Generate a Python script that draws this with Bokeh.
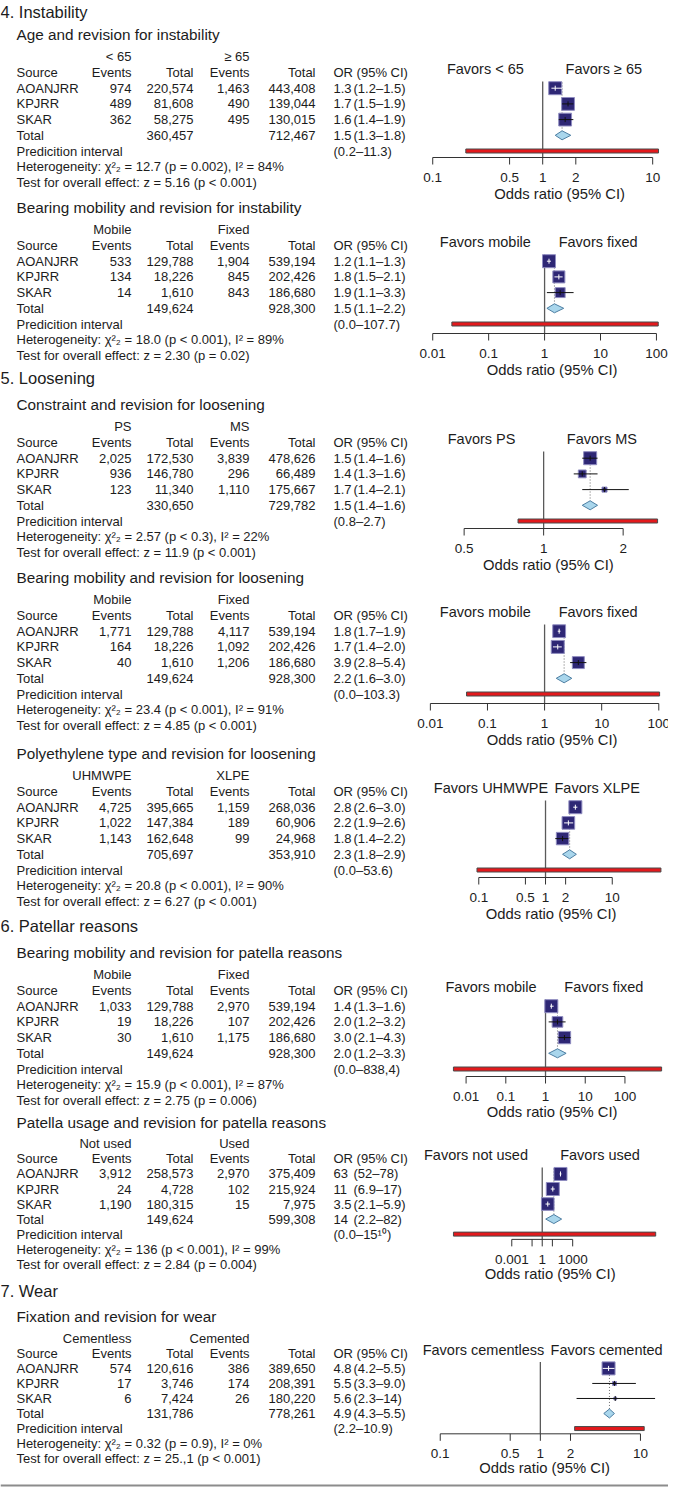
import math
from bokeh.plotting import figure
from bokeh.models import Range1d, LogScale, ColumnDataSource
from bokeh.embed import file_html
from bokeh.resources import INLINE
from bokeh.core.properties import value

# ---------------- data ----------------
STUDIES = ["AOANJRR", "KPJRR", "SKAR"]
SECTIONS = ["4. Instability", "5. Loosening", "6. Patellar reasons", "7. Wear"]
TITLES = [
    "Age and revision for instability",
    "Bearing mobility  and revision for instability",
    "Constraint and revision for loosening",
    "Bearing mobility  and revision for loosening",
    "Polyethylene type and revision for loosening",
    "Bearing mobility  and revision for patella reasons",
    "Patella usage and revision for patella reasons",
    "Fixation and revision for wear",
]
GROUP_A = ["< 65", "Mobile", "PS", "Mobile", "UHMWPE", "Mobile", "Not used", "Cementless"]
GROUP_B = ["≥ 65", "Fixed", "MS", "Fixed", "XLPE", "Fixed", "Used", "Cemented"]
FAVORS_A = ["Favors < 65", "Favors mobile", "Favors PS", "Favors mobile", "Favors UHMWPE",
            "Favors mobile", "Favors not used", "Favors cementless"]
FAVORS_B = ["Favors ≥ 65", "Favors fixed", "Favors MS", "Favors fixed", "Favors XLPE",
            "Favors fixed", "Favors used", "Favors cemented"]

EVENTS_A = [[974, 489, 362], [533, 134, 14], [2025, 936, 123], [1771, 164, 40],
            [4725, 1022, 1143], [1033, 19, 30], [3912, 24, 1190], [574, 17, 6]]
TOTAL_A = [[220574, 81608, 58275], [129788, 18226, 1610], [172530, 146780, 11340],
           [129788, 18226, 1610], [395665, 147384, 162648], [129788, 18226, 1610],
           [258573, 4728, 180315], [120616, 3746, 7424]]
EVENTS_B = [[1463, 490, 495], [1904, 845, 843], [3839, 296, 1110], [4117, 1092, 1206],
            [1159, 189, 99], [2970, 107, 1175], [2970, 102, 15], [386, 174, 26]]
TOTAL_B = [[443408, 139044, 130015], [539194, 202426, 186680], [478626, 66489, 175667],
           [539194, 202426, 186680], [268036, 60906, 24968], [539194, 202426, 186680],
           [375409, 215924, 7975], [389650, 208391, 180220]]
SUM_TOTAL_A = [360457, 149624, 330650, 149624, 705697, 149624, 149624, 131786]
SUM_TOTAL_B = [712467, 928300, 729782, 928300, 353910, 928300, 599308, 778261]

OR_EST = [[1.3, 1.7, 1.6], [1.2, 1.8, 1.9], [1.5, 1.4, 1.7], [1.8, 1.7, 3.9],
          [2.8, 2.2, 1.8], [1.4, 2.0, 3.0], [63, 11, 3.5], [4.8, 5.5, 5.6]]
OR_LO = [[1.2, 1.5, 1.4], [1.1, 1.5, 1.1], [1.4, 1.3, 1.4], [1.7, 1.4, 2.8],
         [2.6, 1.9, 1.4], [1.3, 1.2, 2.1], [52, 6.9, 2.1], [4.2, 3.3, 2.3]]
OR_HI = [[1.5, 1.9, 1.9], [1.3, 2.1, 3.3], [1.6, 1.6, 2.1], [1.9, 2.0, 5.4],
         [3.0, 2.6, 2.2], [1.6, 3.2, 4.3], [78, 17, 5.9], [5.5, 9.0, 14]]
WEIGHTS = [[34, 33, 33], [41, 35, 24], [66, 24, 10], [34.5, 35.5, 30],
           [35, 33, 32], [39, 26, 35], [34, 34, 32], [88, 8, 4]]

POOLED = [1.5, 1.5, 1.5, 2.2, 2.3, 2.0, 14, 4.9]
POOLED_LO = [1.3, 1.1, 1.4, 1.6, 1.8, 1.2, 2.2, 4.3]
POOLED_HI = [1.8, 2.2, 1.6, 3.0, 2.9, 3.3, 82, 5.5]
PRED_LO = [0.2, 0.022, 0.8, 0.043, 0.094, 0.0048, 1.8e-9, 2.2]
PRED_HI = [11.3, 107.7, 2.7, 103.3, 53.6, 838.4, 1.5e11, 10.9]
PRED_TEXT = ["(0.2–11.3)", "(0.0–107.7)", "(0.8–2.7)", "(0.0–103.3)", "(0.0–53.6)",
             "(0.0–838,4)", "(0.0–15¹⁰)", "(2.2–10.9)"]
HET_CHI2 = ["12.7", "18.0", "2.57", "23.4", "20.8", "15.9", "136", "0.32"]
HET_P = ["p = 0.002", "p < 0.001", "p < 0.3", "p < 0.001", "p < 0.001", "p < 0.001",
         "p < 0.001", "p = 0.9"]
I2 = [84, 89, 22, 91, 90, 87, 99, 0]
Z = ["5.16", "2.30", "11.9", "4.85", "6.27", "2.75", "2.84", "25.,1"]
Z_P = ["p < 0.001", "p = 0.02", "p < 0.001", "p < 0.001", "p < 0.001", "p = 0.006",
       "p = 0.004", "p < 0.001"]

TICKS = [[0.1, 0.5, 1, 2, 10], [0.01, 0.1, 1, 10, 100], [0.5, 1, 2],
         [0.01, 0.1, 1, 10, 100], [0.1, 0.5, 1, 2, 10], [0.01, 0.1, 1, 10, 100],
         [0.001, 0.1, 1, 10, 1000], [0.1, 0.5, 1, 2, 10]]
TICK_LABELS = [["0.1", "0.5", "1", "2", "10"], ["0.01", "0.1", "1", "10", "100"],
               ["0.5", "1", "2"], ["0.01", "0.1", "1", "10", "100"],
               ["0.1", "0.5", "1", "2", "10"], ["0.01", "0.1", "1", "10", "100"],
               ["0.001", "", "1", "", "1000"], ["0.1", "0.5", "1", "2", "10"]]
XLABEL = "Odds ratio (95% CI)"

# ---------------- layout / style (positions measured on the reference) ----------------
W, H = 668, 1487
SECTION_Y = [11, 377, 925, 1299]
HEADER_Y = [72, 245, 442, 615, 791, 990, 1161, 1364]
ROW = 15.7
COL_SRC, COL_EV_A, COL_TOT_A, COL_EV_B, COL_TOT_B, COL_OR, COL_CI = 16, 131, 193, 249, 315, 333, 353
ONE_X = [550, 552, 551, 552, 553, 553, 549.5, 547.5]
DECADE_PX = [117, 59.5, 281, 60.75, 71, 42.25, 10.8, 106.5]
AXIS_DY = [85, 88, 86, 88, 86, 86, 84, 84]
FAV_X_A = [489, 489, 485, 489, 495, 495, 479, 487]
FAV_X_B = [615, 609, 613, 609, 608, 615, 611, 618]
XLABEL_X = [568, 560, 556, 560, 559, 560, 558, 552]
CI_WHITE = [[1, 0, 0], [1, 1, 0], [0, 0, 0], [1, 1, 0], [1, 1, 0], [1, 0, 0], [1, 1, 1], [1, 0, 0]]
BOX_MAX = 13
FONT = "Liberation Sans"
INK = "#1c1c1c"
SECTION_FS, TITLE_FS, TABLE_FS, FAV_FS, TICK_FS, XLAB_FS = "16.5px", "15.3px", "13px", "14.5px", "13.5px", "14.8px"
BOX_FILL, BOX_LINE = "#2e2775", "#8f8cc0"
DIA_FILL, DIA_LINE = "#a9d6ec", "#4e7fa3"
PRED_FILL, PRED_LINE = "#e3191c", "#4a4a4a"

# the reference is 684x1503; the figure is 668x1487, so the forest column and the
# bottom of the page are squeezed slightly
FX0, FK = 420, 0.94
FY0 = 1100
FYK = (H - 1 - FY0) / (1503 - FY0)


def fx(x):
    return FX0 + (x - FX0) * FK


def fy(y):
    return y if y <= FY0 else FY0 + (y - FY0) * FYK


def fmt(v):
    return str(int(round(v))) if v >= 10 else f"{v:.1f}"


p = figure(width=W, height=H, x_range=Range1d(0, W), y_range=Range1d(H, 0),
           output_backend="svg", toolbar_location=None, min_border=0,
           x_axis_type=None, y_axis_type=None, outline_line_color=None,
           background_fill_color="white", border_fill_color="white")

ranges, scales = {}, {}
for i in range(8):
    nm = f"or{i}"
    x1, d = fx(ONE_X[i]), DECADE_PX[i] * FK
    ranges[nm] = Range1d(10 ** ((0 - x1) / d), 10 ** ((W - x1) / d))
    scales[nm] = LogScale()
p.extra_x_ranges = ranges
p.extra_x_scales = scales

T = dict(x=[], y=[], text=[], align=[], size=[])


def add(x, y, s, align="left", size=TABLE_FS):
    T["x"].append(x); T["y"].append(fy(y)); T["text"].append(s)
    T["align"].append(align); T["size"].append(size)


for j, s in enumerate(SECTIONS):
    add(0, SECTION_Y[j], s, size=SECTION_FS)

for i in range(8):
    yh = HEADER_Y[i]
    add(COL_SRC, yh - 38, TITLES[i], size=TITLE_FS)
    add(COL_EV_A, yh - ROW, GROUP_A[i], "right")
    add(COL_EV_B, yh - ROW, GROUP_B[i], "right")
    add(COL_SRC, yh, "Source")
    add(COL_EV_A, yh, "Events", "right")
    add(COL_TOT_A, yh, "Total", "right")
    add(COL_EV_B, yh, "Events", "right")
    add(COL_TOT_B, yh, "Total", "right")
    add(COL_OR, yh, "OR (95% CI)")
    for k in range(3):
        y = yh + (k + 1) * ROW
        add(COL_SRC, y, STUDIES[k])
        add(COL_EV_A, y, f"{EVENTS_A[i][k]:,}", "right")
        add(COL_TOT_A, y, f"{TOTAL_A[i][k]:,}", "right")
        add(COL_EV_B, y, f"{EVENTS_B[i][k]:,}", "right")
        add(COL_TOT_B, y, f"{TOTAL_B[i][k]:,}", "right")
        add(COL_OR, y, fmt(OR_EST[i][k]))
        add(COL_CI, y, f"({fmt(OR_LO[i][k])}–{fmt(OR_HI[i][k])})")
    y = yh + 4 * ROW
    add(COL_SRC, y, "Total")
    add(COL_TOT_A, y, f"{SUM_TOTAL_A[i]:,}", "right")
    add(COL_TOT_B, y, f"{SUM_TOTAL_B[i]:,}", "right")
    add(COL_OR, y, fmt(POOLED[i]))
    add(COL_CI, y, f"({fmt(POOLED_LO[i])}–{fmt(POOLED_HI[i])})")
    y = yh + 5 * ROW
    add(COL_SRC, y, "Predicition interval")
    add(COL_OR, y, PRED_TEXT[i])
    add(COL_SRC, yh + 6 * ROW, f"Heterogeneity: χ²₂ = {HET_CHI2[i]} ({HET_P[i]}), I² = {I2[i]}%")
    add(COL_SRC, yh + 7 * ROW, f"Test for overall effect: z = {Z[i]} ({Z_P[i]})")
    # forest labels in layout space
    add(fx(FAV_X_A[i]), yh - 4, FAVORS_A[i], "center", FAV_FS)
    add(fx(FAV_X_B[i]), yh - 4, FAVORS_B[i], "center", FAV_FS)
    add(fx(XLABEL_X[i]), yh + AXIS_DY[i] + 36, XLABEL, "center", XLAB_FS)

p.text(x="x", y="y", text="text", text_align="align", text_font_size="size",
       text_baseline="middle", text_font=value(FONT), text_color=INK,
       source=ColumnDataSource(T))

# ---------------- forest plots ----------------
for i in range(8):
    nm = f"or{i}"
    yh = HEADER_Y[i]
    ay = fy(yh + AXIS_DY[i])
    rows = [fy(yh + (k + 1) * ROW) for k in range(3)]
    ypool = fy(yh + 4 * ROW)
    ypred = fy(yh + 5 * ROW)
    # reference line at OR = 1
    p.segment(x0=[1], x1=[1], y0=[fy(yh + 9)], y1=[ay], line_color="#5a5a5a", line_width=1.3, x_range_name=nm)
    # dotted line at pooled estimate
    p.segment(x0=[POOLED[i]], x1=[POOLED[i]], y0=[fy(yh + 10)], y1=[ypool - 4.5], line_color="#6a6a6a",
              line_width=1, line_dash="1 2", x_range_name=nm)
    # prediction interval bar
    p.quad(left=[PRED_LO[i]], right=[PRED_HI[i]], top=[ypred - 2], bottom=[ypred + 2],
           fill_color=PRED_FILL, line_color=PRED_LINE, line_width=1, x_range_name=nm)
    # study boxes, area proportional to weight
    wmax = max(WEIGHTS[i])
    sizes = [BOX_MAX * math.sqrt(w / wmax) for w in WEIGHTS[i]]
    p.scatter(x=OR_EST[i], y=rows, size=sizes, marker="square", fill_color=BOX_FILL,
              line_color=BOX_LINE, line_width=1, x_range_name=nm)
    cols = ["white" if c else "#111111" for c in CI_WHITE[i]]
    p.segment(x0=OR_LO[i], x1=OR_HI[i], y0=rows, y1=rows, line_color=cols, line_width=1, x_range_name=nm)
    p.segment(x0=OR_EST[i], x1=OR_EST[i], y0=[r - 2.5 for r in rows], y1=[r + 2.5 for r in rows],
              line_color=cols, line_width=1, x_range_name=nm)
    # pooled diamond
    p.patches(xs=[[POOLED_LO[i], POOLED[i], POOLED_HI[i], POOLED[i]]],
              ys=[[ypool, ypool - 4.5, ypool, ypool + 4.5]],
              fill_color=DIA_FILL, line_color=DIA_LINE, line_width=1, x_range_name=nm)
    # axis
    tk = TICKS[i]
    p.segment(x0=[tk[0]], x1=[tk[-1]], y0=[ay], y1=[ay], line_color="#333333", line_width=1, x_range_name=nm)
    p.segment(x0=tk, x1=tk, y0=[ay] * len(tk), y1=[ay + 7] * len(tk), line_color="#333333",
              line_width=1, x_range_name=nm)
    p.text(x=tk, y=[ay + 20] * len(tk), text=TICK_LABELS[i], text_align="center", text_baseline="middle",
           text_font=value(FONT), text_font_size=TICK_FS, text_color=INK, x_range_name=nm)

# bottom rule
p.segment(x0=[0], x1=[W], y0=[fy(1502)], y1=[fy(1502)], line_color="#8c8c8c", line_width=2)

open("out.html", "w").write(file_html(p, INLINE))
